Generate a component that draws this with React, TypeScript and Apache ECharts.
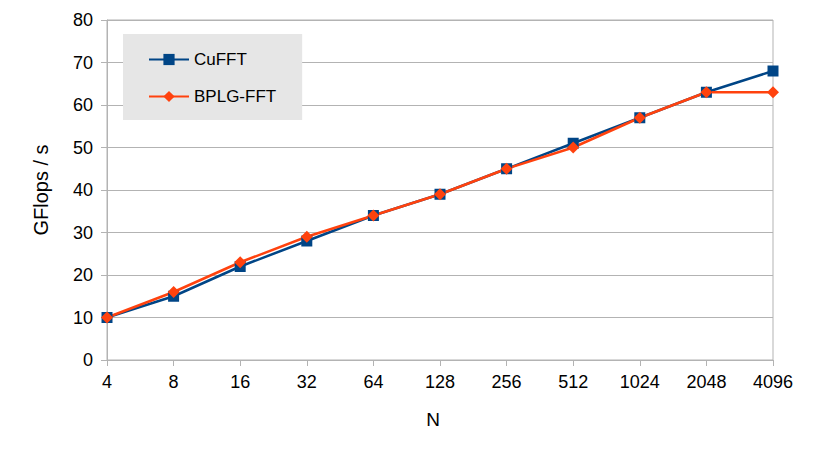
import React, { useEffect, useRef } from "react";
import * as echarts from "echarts";

const categories = ["4", "8", "16", "32", "64", "128", "256", "512", "1024", "2048", "4096"];
const cufft = [10, 15, 22, 28, 34, 39, 45, 51, 57, 63, 68];
const bplg = [10, 16, 23, 29, 34, 39, 45, 50, 57, 63, 63];

const FONT = "'Liberation Sans', Arial, sans-serif";

export default function App() {
  const ref = useRef<HTMLDivElement>(null);
  useEffect(() => {
    if (!ref.current) return;
    const chart = echarts.init(ref.current, undefined, { renderer: "svg" });
    chart.setOption({
      animation: false,
      textStyle: { fontFamily: FONT },
      grid: {
        left: 107,
        right: 40,
        top: 20,
        bottom: 97,
        show: true,
        borderColor: "#b3b3b3",
        borderWidth: 1,
      },
      legend: {
        orient: "vertical",
        left: 123,
        top: 34,
        backgroundColor: "#e6e6e6",
        padding: [17, 26, 15, 25],
        itemGap: 20,
        itemWidth: 40,
        itemHeight: 14,
        textStyle: { fontFamily: FONT, fontSize: 17, color: "#000" },
        data: ["CuFFT", "BPLG-FFT"],
      },
      xAxis: {
        type: "category",
        data: categories,
        boundaryGap: false,
        name: "N",
        nameLocation: "middle",
        nameGap: 50,
        nameTextStyle: { fontFamily: FONT, fontSize: 19, color: "#000", padding: [0, 14, 0, 0] },
        axisLine: { lineStyle: { color: "#b3b3b3" } },
        axisTick: { show: true, alignWithLabel: true, length: 6, lineStyle: { color: "#b3b3b3" } },
        axisLabel: { fontFamily: FONT, fontSize: 18, color: "#000", margin: 13, interval: 0 },
        splitLine: { show: false },
      },
      yAxis: {
        type: "value",
        min: 0,
        max: 80,
        interval: 10,
        name: "GFlops / s",
        nameLocation: "middle",
        nameGap: 56,
        nameTextStyle: { fontFamily: FONT, fontSize: 20, color: "#000" },
        axisLine: { show: true, lineStyle: { color: "#b3b3b3" } },
        axisTick: { show: true, length: 6, lineStyle: { color: "#b3b3b3" } },
        axisLabel: { fontFamily: FONT, fontSize: 18, color: "#000", margin: 14 },
        splitLine: { show: true, lineStyle: { color: "#b3b3b3", width: 1 } },
      },
      series: [
        {
          name: "CuFFT",
          type: "line",
          data: cufft,
          symbol: "rect",
          symbolSize: 11,
          lineStyle: { color: "#004586", width: 2.5 },
          itemStyle: { color: "#004586" },
        },
        {
          name: "BPLG-FFT",
          type: "line",
          data: bplg,
          symbol: "diamond",
          symbolSize: 12,
          lineStyle: { color: "#ff420e", width: 2.5 },
          itemStyle: { color: "#ff420e" },
        },
      ],
    });
    return () => chart.dispose();
  }, []);
  return <div ref={ref} style={{ width: 813, height: 457, position: "absolute", left: 0, top: 0 }} />;
}
